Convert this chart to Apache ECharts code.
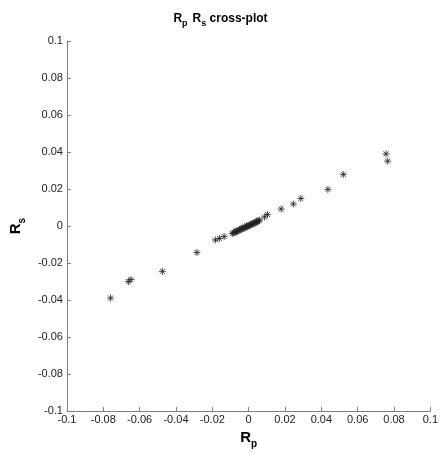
<!DOCTYPE html>
<html>
<head>
<meta charset="utf-8">
<script src="https://cdn.jsdelivr.net/npm/echarts@6/dist/echarts.min.js"></script>
<style>
  html, body { margin: 0; padding: 0; background: #fff; }
  #chart { width: 441px; height: 454px; }
</style>
</head>
<body>
<div id="chart"></div>
<script>
// R_p values (x) and matching R_s values (y)
const rp = [
  -0.0760, -0.0662, -0.0648, -0.0475, -0.0285, -0.0183, -0.0161, -0.0135,
  -0.0090, -0.0083, -0.0076, -0.0069, -0.0062, -0.0055, -0.0049, -0.0043,
  -0.0037, -0.0031, -0.0025, -0.0019, -0.0013, -0.0007, -0.0001, 0.0005,
  0.0011, 0.0017, 0.0023, 0.0029, 0.0035, 0.0041, 0.0047, 0.0054, 0.0060,
  -0.0070, -0.0040, -0.0010, 0.0020, 0.0045,
  0.0087, 0.0104, 0.0179, 0.0246, 0.0287, 0.0436, 0.0521, 0.0756, 0.0765
];
const rs = [
  -0.0389, -0.0300, -0.0289, -0.0245, -0.0143, -0.0075, -0.0067, -0.0057,
  -0.0040, -0.0037, -0.0034, -0.0031, -0.0027, -0.0024, -0.0021, -0.0018,
  -0.0015, -0.0012, -0.0010, -0.0007, -0.0004, -0.0001, 0.0001, 0.0004,
  0.0007, 0.0009, 0.0012, 0.0015, 0.0018, 0.0021, 0.0024, 0.0028, 0.0032,
  -0.0027, -0.0013, 0.0001, 0.0013, 0.0026,
  0.0049, 0.0062, 0.0092, 0.0119, 0.0149, 0.0198, 0.0279, 0.0390, 0.0351
];
// axis range and step shared by both axes
const axisMin = -0.1;
const axisMax = 0.1;
const axisStep = 0.02;

const points = rp.map((x, i) => [x, rs[i]]);

const font = "Liberation Sans, Arial, sans-serif";
const star = "path://M0,-5L0,5M-5,0L5,0M-3.6,-3.6L3.6,3.6M-3.6,3.6L3.6,-3.6";

const tickFmt = (v) => String(+v.toFixed(2));

const subRich = {
  a: { fontSize: 15, fontWeight: "bold", fontFamily: font, color: "#000", lineHeight: 15, verticalAlign: "top" },
  b: { fontSize: 10, fontWeight: "bold", fontFamily: font, color: "#000", lineHeight: 28 },
};

function axisCommon() {
  return {
    type: "value",
    min: axisMin,
    max: axisMax,
    interval: axisStep,
    nameLocation: "middle",
    axisLine: { show: true, onZero: false, lineStyle: { color: "#7f7f7f", width: 1 } },
    axisTick: { show: true, inside: true, length: 4, lineStyle: { color: "#7f7f7f" } },
    splitLine: { show: false },
    axisLabel: {
      formatter: tickFmt,
      color: "#222",
      fontSize: 11,
      fontFamily: font,
      showMinLabel: true,
      showMaxLabel: true,
    },
  };
}

const chart = echarts.init(document.getElementById("chart"));

chart.setOption({
  animation: false,
  backgroundColor: "#fff",
  title: {
    text: "{a|R}{b|p} {a|R}{b|s}{a| cross-plot}",
    left: "center",
    top: 8,
    textStyle: {
      rich: {
        a: { fontSize: 12, fontWeight: "bold", fontFamily: font, color: "#000", lineHeight: 12, verticalAlign: "top" },
        b: { fontSize: 9, fontWeight: "bold", fontFamily: font, color: "#000", lineHeight: 22 },
      },
    },
  },
  grid: { left: 55.5, right: 9, top: 41, bottom: 38.5 },
  xAxis: Object.assign(axisCommon(), {
    name: "{a|R}{b|p}",
    nameGap: 16,
    nameTextStyle: { rich: subRich },
    axisLabel: Object.assign(axisCommon().axisLabel, { margin: 3 }),
  }),
  yAxis: Object.assign(axisCommon(), {
    name: "{a|R}{b|s}",
    nameGap: 30,
    nameRotate: 90,
    nameTextStyle: { rich: subRich },
    axisLabel: Object.assign(axisCommon().axisLabel, { margin: 4 }),
  }),
  series: [
    {
      type: "scatter",
      data: points,
      symbol: star,
      symbolSize: 7,
      itemStyle: { color: "rgba(0,0,0,0)", borderColor: "#222", borderWidth: 1 },
    },
  ],
});
</script>
</body>
</html>
